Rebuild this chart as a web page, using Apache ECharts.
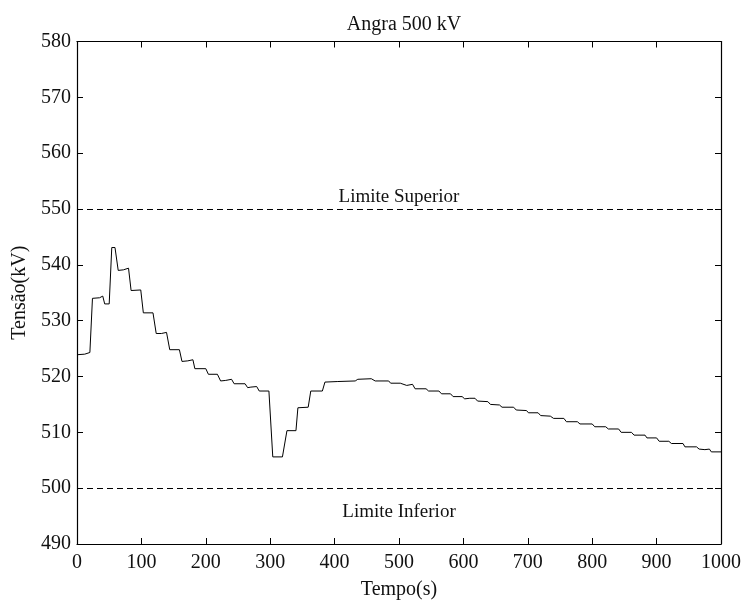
<!DOCTYPE html>
<html>
<head>
<meta charset="utf-8">
<script src="https://cdn.jsdelivr.net/npm/echarts@6/dist/echarts.min.js"></script>
<style>html,body{margin:0;padding:0;background:#fff}#c{width:746px;height:605px}</style>
</head>
<body>
<div id="c"></div>
<script>
const chartTitle = 'Angra 500 kV';
const xName = 'Tempo(s)';
const yName = 'Tensão(kV)';
const xTicks = [0,100,200,300,400,500,600,700,800,900,1000];
const yTicks = [490,500,510,520,530,540,550,560,570,580];
const limitValues = [550, 500];
const limitLabels = ['Limite Superior', 'Limite Inferior'];
const time = [0,12,15,20,24,35,38,40,43,50,54,59,64,72,74,80,84,99,103,118,123,131,133,139,144,159,163,172,174,180,183,200,204,218,223,231,233,240,244,261,265,270,272,279,283,298,299,304,319,326,340,343,359,363,381,385,405,408,432,436,457,459,463,484,487,502,505,512,515,521,525,542,546,562,566,580,584,598,602,610,613,618,622,638,642,656,660,678,682,698,701,716,720,735,740,756,760,777,781,800,804,821,825,841,845,861,865,882,885,900,904,919,923,941,944,962,966,975,978,982,985,1000];
const voltage = [523.9,524.0,524.3,524.3,534.0,534.1,534.4,534.4,533.0,533.0,543.1,543.1,539.0,539.1,539.4,539.4,535.4,535.5,531.4,531.4,527.7,527.7,527.9,527.9,524.8,524.8,522.7,522.8,523.0,523.0,521.4,521.4,520.4,520.4,519.2,519.3,519.5,519.5,518.7,518.7,518.0,518.1,518.2,518.2,517.4,517.4,517.6,505.6,505.6,510.3,510.3,514.4,514.5,517.4,517.4,519.0,519.1,519.2,519.2,519.5,519.6,519.8,519.2,519.2,518.8,518.8,518.5,518.4,518.6,518.6,517.8,517.8,517.4,517.4,516.9,516.9,516.4,516.4,516.0,516.1,516.2,516.1,515.6,515.5,515.0,514.9,514.5,514.5,514.0,513.9,513.5,513.5,513.0,512.9,512.5,512.5,511.9,511.9,511.5,511.5,511.0,511.0,510.6,510.6,510.0,510.0,509.5,509.5,509.0,509.0,508.4,508.4,508.0,508.0,507.4,507.4,507.0,506.9,507.1,507.0,506.5,506.5];

const FONT = 'Liberation Serif';
const INK = '#111';
const series = time.map((t, i) => [t, voltage[i]]);

function axisBase(extra) {
  return Object.assign({
    axisLine: {show: true, onZero: false, lineStyle: {color: '#000', width: 1.2}},
    axisTick: {show: true, inside: true, length: 6, lineStyle: {color: '#000'}},
    splitLine: {show: false}
  }, extra);
}

const chart = echarts.init(document.getElementById('c'), null, {renderer: 'canvas'});
chart.setOption({
  animation: false,
  backgroundColor: '#fff',
  title: {
    text: chartTitle, left: 399, top: 10, textAlign: 'center',
    textStyle: {fontFamily: FONT, fontSize: 20, fontWeight: 'normal', color: INK}
  },
  grid: {left: 77, right: 25, top: 41.5, bottom: 56.5, containLabel: false},
  xAxis: [
    axisBase({
      type: 'value', min: xTicks[0], max: xTicks[xTicks.length - 1], interval: 100, position: 'bottom',
      name: xName, nameLocation: 'middle', nameGap: 36,
      nameTextStyle: {fontFamily: FONT, fontSize: 20, color: INK},
      axisLabel: {fontFamily: FONT, fontSize: 20, color: INK, margin: 9, formatter: v => String(v)}
    }),
    axisBase({
      type: 'value', min: xTicks[0], max: xTicks[xTicks.length - 1], interval: 100, position: 'top',
      axisLabel: {show: false}
    })
  ],
  yAxis: [
    axisBase({
      type: 'value', min: yTicks[0], max: yTicks[yTicks.length - 1], interval: 10, position: 'left',
      name: yName, nameLocation: 'middle', nameGap: 44,
      nameTextStyle: {fontFamily: FONT, fontSize: 20, color: INK},
      axisLabel: {fontFamily: FONT, fontSize: 20, color: INK, margin: 6, formatter: v => String(v)}
    }),
    axisBase({
      type: 'value', min: yTicks[0], max: yTicks[yTicks.length - 1], interval: 10, position: 'right',
      axisLabel: {show: false}
    })
  ],
  series: [
    {
      type: 'line', data: series, showSymbol: false, symbol: 'none',
      lineStyle: {color: '#000', width: 1}, z: 3,
      markLine: {
        silent: true, symbol: ['none', 'none'],
        lineStyle: {color: '#000', type: [6, 4], width: 1},
        data: [
          {yAxis: limitValues[0], label: {show: true, formatter: limitLabels[0], position: 'insideMiddleTop', distance: 2, fontFamily: FONT, fontSize: 19, color: INK}},
          {yAxis: limitValues[1], label: {show: true, formatter: limitLabels[1], position: 'insideMiddleBottom', distance: 14, fontFamily: FONT, fontSize: 19, color: INK}}
        ]
      }
    }
  ]
});
</script>
</body>
</html>
